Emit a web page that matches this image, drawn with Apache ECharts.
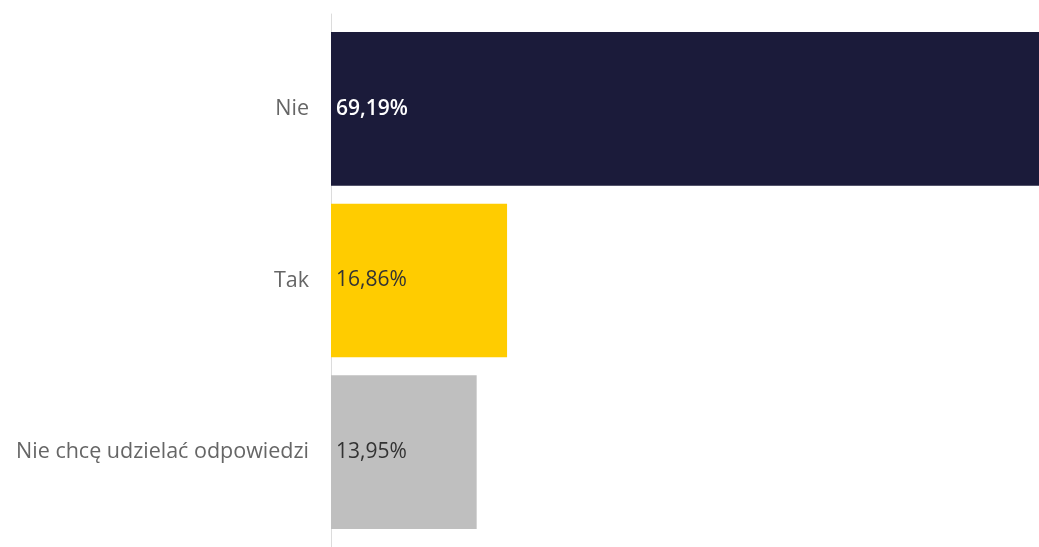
<!DOCTYPE html>
<html>
<head>
<meta charset="utf-8">
<script src="https://cdn.jsdelivr.net/npm/echarts@6/dist/echarts.min.js"></script>
<style>
  html, body { margin: 0; padding: 0; background: #fff; }
  #chart { width: 1039px; height: 547px; }
</style>
</head>
<body>
<div id="chart"></div>
<script>
// Survey answers, top to bottom
const categories = ['Nie', 'Tak', 'Nie chcę udzielać odpowiedzi'];
const shares = [69.19, 16.86, 13.95];
const barColors = ['#1b1b3a', '#ffcc00', '#bfbfbf'];
const labelColors = ['#ffffff', '#333333', '#333333'];
const labelWeights = [600, 'normal', 'normal'];

const fmt = v => v.toFixed(2).replace('.', ',') + '%';

const chart = echarts.init(document.getElementById('chart'));
chart.setOption({
  animation: false,
  grid: [
    { left: 331, right: 0, top: 23, bottom: 9 },
    { left: 331, right: 0, top: 14, bottom: 0 }
  ],
  xAxis: [
    // the scale runs a little past the window, so the longest bar is cut at the edge
    { type: 'value', gridIndex: 0, min: 0, max: 67.8, show: false },
    { type: 'value', gridIndex: 1, min: 0, max: 1, show: false }
  ],
  yAxis: [
    {
      type: 'category', gridIndex: 0, data: categories, inverse: true,
      axisLine: { show: false }, axisTick: { show: false },
      axisLabel: { color: '#666666', fontFamily: 'Open Sans', fontSize: 21.5, margin: 22 }
    },
    {
      type: 'value', gridIndex: 1, min: 0, max: 1,
      axisLine: { show: true, lineStyle: { color: '#dcdcdc', width: 1 } },
      axisTick: { show: false }, axisLabel: { show: false }, splitLine: { show: false }
    }
  ],
  series: [{
    type: 'bar',
    xAxisIndex: 0, yAxisIndex: 0,
    barCategoryGap: '10.5%',
    clip: true,
    data: shares.map((v, i) => ({
      value: v,
      itemStyle: { color: barColors[i] },
      label: { color: labelColors[i], fontWeight: labelWeights[i] }
    })),
    label: {
      show: true, position: 'insideLeft', distance: 5,
      fontFamily: 'Open Sans', fontSize: 21,
      formatter: p => fmt(p.value)
    }
  }]
});
</script>
</body>
</html>
